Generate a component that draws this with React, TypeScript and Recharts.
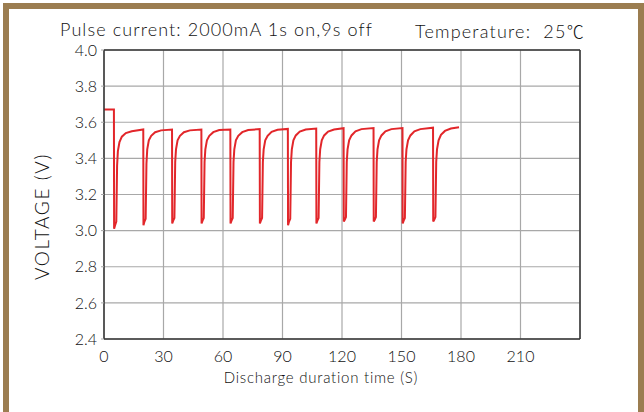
import React from "react";
import { LineChart, Line, XAxis, YAxis, CartesianGrid, ReferenceLine, Label } from "recharts";

const TITLE_LEFT = "Pulse current: 2000mA 1s on,9s off";
const TITLE_RIGHT = "Temperature:  25";
const TITLE_UNIT = "\u2103";
const X_TICKS = [0, 30, 60, 90, 120, 150, 180, 210, 240];
const Y_TICKS = [2.4, 2.6, 2.8, 3.0, 3.2, 3.4, 3.6, 3.8, 4.0];

// time (s)
const TIMES = [
  0, 5, 5.1, 5.6, 6.2, 6.6, 7.0, 7.8, 9.0, 11.0, 14.0,
  19.8, 19.9, 20.4, 21.0, 21.4, 21.8, 22.6, 23.8, 25.8, 28.8,
  34.3, 34.4, 34.9, 35.5, 35.9, 36.3, 37.1, 38.3, 40.3, 43.3,
  49.1, 49.2, 49.7, 50.3, 50.7, 51.1, 51.9, 53.1, 55.1, 58.1,
  63.7, 63.8, 64.3, 64.9, 65.3, 65.7, 66.5, 67.7, 69.7, 72.7,
  78.5, 78.6, 79.1, 79.7, 80.1, 80.5, 81.3, 82.5, 84.5, 87.5,
  92.7, 92.8, 93.3, 93.9, 94.3, 94.7, 95.5, 96.7, 98.7, 101.7,
  107.0, 107.1, 107.6, 108.2, 108.6, 109.0, 109.8, 111.0, 113.0, 116.0,
  120.8, 120.9, 121.4, 122.0, 122.4, 122.8, 123.6, 124.8, 126.8, 129.8,
  135.9, 136.0, 136.5, 137.1, 137.5, 137.9, 138.7, 139.9, 141.9, 144.9,
  150.5, 150.6, 151.1, 151.7, 152.1, 152.5, 153.3, 154.5, 156.5, 159.5,
  165.9, 166.0, 166.5, 167.1, 167.5, 167.9, 168.7, 169.9, 171.9, 174.9,
  179.0,
];

// voltage (V)
const VOLTS = [
  3.67, 3.67, 3.01, 3.03, 3.05, 3.36, 3.44, 3.49, 3.52, 3.54, 3.55,
  3.56, 3.03, 3.05, 3.065, 3.37, 3.45, 3.5, 3.525, 3.545, 3.555,
  3.56, 3.04, 3.055, 3.07, 3.38, 3.45, 3.5, 3.525, 3.545, 3.555,
  3.56, 3.04, 3.055, 3.07, 3.38, 3.45, 3.5, 3.525, 3.545, 3.557,
  3.56, 3.04, 3.055, 3.07, 3.38, 3.45, 3.5, 3.525, 3.545, 3.557,
  3.562, 3.04, 3.055, 3.07, 3.38, 3.45, 3.5, 3.525, 3.547, 3.558,
  3.563, 3.03, 3.05, 3.065, 3.38, 3.45, 3.5, 3.527, 3.548, 3.56,
  3.565, 3.04, 3.055, 3.07, 3.38, 3.45, 3.5, 3.527, 3.548, 3.56,
  3.567, 3.05, 3.06, 3.075, 3.38, 3.45, 3.5, 3.527, 3.55, 3.562,
  3.568, 3.05, 3.06, 3.075, 3.38, 3.45, 3.5, 3.527, 3.55, 3.562,
  3.568, 3.04, 3.055, 3.07, 3.38, 3.45, 3.5, 3.527, 3.55, 3.562,
  3.57, 3.05, 3.06, 3.075, 3.38, 3.45, 3.5, 3.53, 3.552, 3.565,
  3.572,
];

const data = TIMES.map((t, i) => ({ t, v: VOLTS[i] }));

const FONT = "Lato, 'Open Sans', sans-serif";
const TEXT = "#111";

export default function App() {
  return (
    <div style={{ position: "absolute", left: 0, top: 0, width: 644, height: 412, background: "#fff", overflow: "hidden", fontFamily: FONT }}>
      <div
        style={{
          position: "absolute",
          left: 3,
          top: 3,
          width: 641,
          height: 430,
          border: "6px solid #9b7d50",
          boxSizing: "border-box",
        }}
      />
      <div style={{ position: "absolute", left: 60, top: 18, fontSize: 18, fontWeight: 300, color: TEXT, whiteSpace: "pre", letterSpacing: 1.1 }}>{TITLE_LEFT}</div>
      <div style={{ position: "absolute", left: 415, top: 18, fontSize: 18, fontWeight: 300, color: TEXT, whiteSpace: "pre", letterSpacing: 1.2 }}>
        {TITLE_RIGHT}
        <span style={{ fontFamily: "'Noto Sans CJK SC', 'DejaVu Sans', sans-serif", fontWeight: 300, letterSpacing: 0, fontSize: 17 }}>{TITLE_UNIT}</span>
      </div>
      <div style={{ position: "absolute", left: 0, top: 0 }}>
        <LineChart width={644} height={412} data={data} margin={{ top: 50, right: 64, bottom: 43, left: 30 }}>
          <CartesianGrid stroke="#a8a8a8" strokeWidth={1.2} />
          <XAxis
            dataKey="t"
            type="number"
            domain={[0, 240]}
            ticks={X_TICKS}
            interval={0}
            tickFormatter={(v: number) => (v === 240 ? "" : String(v))}
            tickLine={false}
            axisLine={{ stroke: "#333", strokeWidth: 1.5 }}
            tick={{ fontSize: 16, fill: TEXT, fontFamily: FONT, fontWeight: 300 }}
            tickMargin={6}
            height={30}
          >
            <Label value="Discharge duration time (S)" position="insideBottom" offset={-14} dx={-21} style={{ fontSize: 15, fill: TEXT, fontFamily: FONT, fontWeight: 300, letterSpacing: 0.75 }} />
          </XAxis>
          <YAxis
            type="number"
            domain={[2.4, 4.0]}
            ticks={Y_TICKS}
            interval={0}
            allowDataOverflow
            tickFormatter={(v: number) => v.toFixed(1)}
            tickLine={{ stroke: "#a8a8a8" }}
            tickSize={3}
            tickMargin={4}
            axisLine={{ stroke: "#333", strokeWidth: 1.5 }}
            tick={{ fontSize: 16, fill: TEXT, fontFamily: FONT, fontWeight: 300 }}
            width={74}
          >
            <Label value="VOLTAGE (V)" angle={-90} position="insideLeft" offset={12} dy={22} style={{ fontSize: 19, fill: TEXT, fontFamily: FONT, fontWeight: 300, textAnchor: "middle", letterSpacing: 1.6 }} />
          </YAxis>
          <ReferenceLine y={4.0} stroke="#333" strokeWidth={1.5} />
          <ReferenceLine x={240} stroke="#333" strokeWidth={1.5} />
          <Line
            type="linear"
            dataKey="v"
            stroke="#e2262a"
            strokeWidth={2}
            dot={false}
            isAnimationActive={false}
          />
        </LineChart>
      </div>
    </div>
  );
}
